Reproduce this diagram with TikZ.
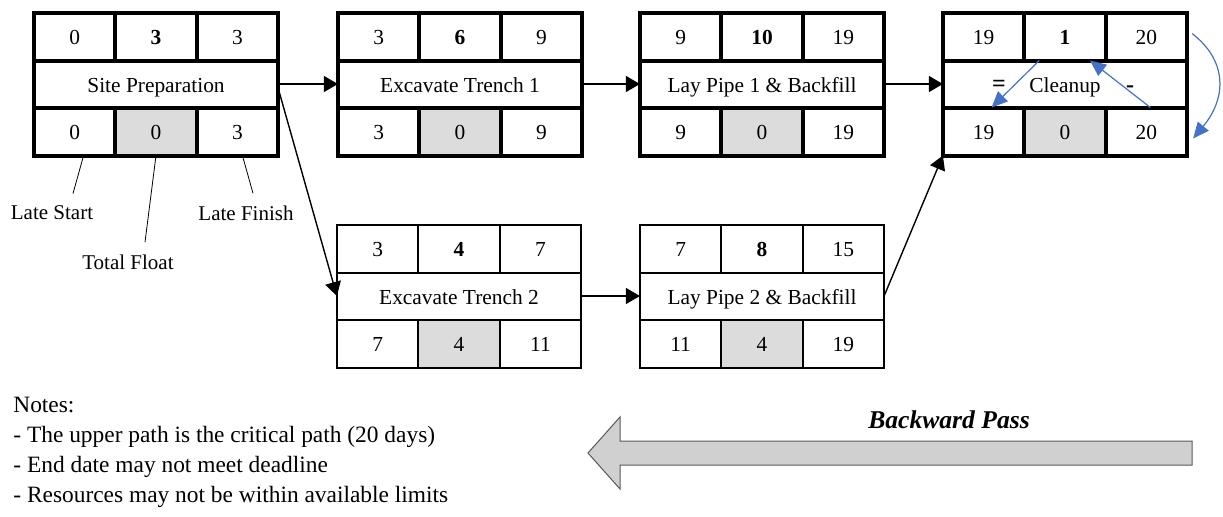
\documentclass[tikz,border=0pt]{standalone}
\usepackage{fontspec}
\setmainfont{Liberation Serif}
\usetikzlibrary{arrows.meta}
\definecolor{floatgrey}{HTML}{DCDCDC}
\definecolor{passblue}{HTML}{4472C4}
\definecolor{bigarrow}{HTML}{D0D0D0}

\begin{document}
\begin{tikzpicture}[x=0.5pt, y=-0.5pt, font=\fontsize{10.7}{12.8}\selectfont,
  cell/.style={draw, minimum width=40.7pt, minimum height=24pt, inner sep=0pt, outer sep=0pt,
    text height=9.5pt, text depth=1.5pt},
  title/.style={cell, minimum width=122.1pt, minimum height=23.5pt},
  tf/.style={cell, fill=floatgrey},
  crit/.style={line width=2pt},
  slack/.style={line width=1pt},
  link/.style={-{Triangle[length=7pt,width=8pt]}, line width=0.7pt},
  trace/.style={draw=passblue, line width=0.6pt, -{Triangle[length=8pt,width=7pt]}},
  lab/.style={font=\fontsize{10.5}{12}\selectfont, inner sep=1pt},
  pointer/.style={line width=0.4pt}]
  \useasboundingbox (0,0) rectangle (1223,516);
  % site preparation
  \node[title, crit] (sp) at (156,84) {Site Preparation};
  \node[cell, crit, anchor=south west] (sp-es) at (sp.north west) {0};
  \node[cell, crit, anchor=south] (sp-d) at (sp.north) {\textbf{3}};
  \node[cell, crit, anchor=south east] (sp-ef) at (sp.north east) {3};
  \node[cell, crit, anchor=north west] (sp-ls) at (sp.south west) {0};
  \node[tf, crit, anchor=north] (sp-tf) at (sp.south) {0};
  \node[cell, crit, anchor=north east] (sp-lf) at (sp.south east) {3};
  % excavate trench 1
  \node[title, crit] (et1) at (460,84) {Excavate Trench 1};
  \node[cell, crit, anchor=south west] (et1-es) at (et1.north west) {3};
  \node[cell, crit, anchor=south] (et1-d) at (et1.north) {\textbf{6}};
  \node[cell, crit, anchor=south east] (et1-ef) at (et1.north east) {9};
  \node[cell, crit, anchor=north west] (et1-ls) at (et1.south west) {3};
  \node[tf, crit, anchor=north] (et1-tf) at (et1.south) {0};
  \node[cell, crit, anchor=north east] (et1-lf) at (et1.south east) {9};
  % lay pipe 1
  \node[title, crit] (lp1) at (762,84) {Lay Pipe 1 \& Backfill};
  \node[cell, crit, anchor=south west] (lp1-es) at (lp1.north west) {9};
  \node[cell, crit, anchor=south] (lp1-d) at (lp1.north) {\textbf{10}};
  \node[cell, crit, anchor=south east] (lp1-ef) at (lp1.north east) {19};
  \node[cell, crit, anchor=north west] (lp1-ls) at (lp1.south west) {9};
  \node[tf, crit, anchor=north] (lp1-tf) at (lp1.south) {0};
  \node[cell, crit, anchor=north east] (lp1-lf) at (lp1.south east) {19};
  % cleanup
  \node[title, crit] (cu) at (1065,84) {Cleanup};
  \node[cell, crit, anchor=south west] (cu-es) at (cu.north west) {19};
  \node[cell, crit, anchor=south] (cu-d) at (cu.north) {\textbf{1}};
  \node[cell, crit, anchor=south east] (cu-ef) at (cu.north east) {20};
  \node[cell, crit, anchor=north west] (cu-ls) at (cu.south west) {19};
  \node[tf, crit, anchor=north] (cu-tf) at (cu.south) {0};
  \node[cell, crit, anchor=north east] (cu-lf) at (cu.south east) {20};
  \node[font=\fontsize{12}{14}\selectfont\bfseries, inner sep=0pt] (cu-eq) at ([xshift=-33pt,yshift=-1pt]cu.center) {=};
  \node[font=\fontsize{12}{14}\selectfont\bfseries, inner sep=0pt] (cu-mi) at ([xshift=32.5pt,yshift=-2.5pt]cu.center) {-};
  % excavate trench 2
  \node[title, slack] (et2) at (459,296) {Excavate Trench 2};
  \node[cell, slack, anchor=south west] (et2-es) at (et2.north west) {3};
  \node[cell, slack, anchor=south] (et2-d) at (et2.north) {\textbf{4}};
  \node[cell, slack, anchor=south east] (et2-ef) at (et2.north east) {7};
  \node[cell, slack, anchor=north west] (et2-ls) at (et2.south west) {7};
  \node[tf, slack, anchor=north] (et2-tf) at (et2.south) {4};
  \node[cell, slack, anchor=north east] (et2-lf) at (et2.south east) {11};
  % lay pipe 2
  \node[title, slack] (lp2) at (762,296) {Lay Pipe 2 \& Backfill};
  \node[cell, slack, anchor=south west] (lp2-es) at (lp2.north west) {7};
  \node[cell, slack, anchor=south] (lp2-d) at (lp2.north) {\textbf{8}};
  \node[cell, slack, anchor=south east] (lp2-ef) at (lp2.north east) {15};
  \node[cell, slack, anchor=north west] (lp2-ls) at (lp2.south west) {11};
  \node[tf, slack, anchor=north] (lp2-tf) at (lp2.south) {4};
  \node[cell, slack, anchor=north east] (lp2-lf) at (lp2.south east) {19};
  % dependencies
  \draw[link] (sp) -- (et1);
  \draw[link] (et1) -- (lp1);
  \draw[link] (lp1) -- (cu);
  \draw[link] ([yshift=-2pt]sp.east) -- (et2.west);
  \draw[link] (et2) -- (lp2);
  \draw[link] (lp2.east) -- (cu-ls.south west);
  % backward pass inside cleanup
  \draw[trace] ([xshift=7.5pt]cu-d.south west) -- ([xshift=4pt]cu-ls.north);
  \draw[trace] ([xshift=2pt]cu-lf.north) -- ([xshift=12.5pt]cu-d.south);
  \draw[trace] ([xshift=2.5pt,yshift=1.5pt]cu-ef.east) .. controls ([xshift=20pt,yshift=-12pt]cu-ef.east) and ([xshift=20pt,yshift=17pt]cu-lf.east) .. ([xshift=3pt,yshift=-3.5pt]cu-lf.east);
  % legend for the bottom row
  \node[lab] (ls-lab) at (52,213) {Late Start};
  \node[lab] (tf-lab) at (128,262) {Total Float};
  \node[lab] (lf-lab) at (246,213) {Late Finish};
  \draw[pointer] ([xshift=4.5pt]sp-ls.south) -- ([xshift=10.5pt,yshift=5pt]ls-lab.north);
  \draw[pointer] (sp-tf.south) -- ([xshift=8.5pt,yshift=5pt]tf-lab.north);
  \draw[pointer] ([xshift=2.5pt]sp-lf.south) -- ([xshift=3.5pt,yshift=5pt]lf-lab.north);
  % notes
  \node[font=\fontsize{11.7}{15}\selectfont, align=left, anchor=north west, inner sep=0pt] (notes) at (13,397)
    {Notes:\\- The upper path is the critical path (20 days)\\- End date may not meet deadline\\- Resources may not be within available limits};
  % backward pass arrow
  \draw[draw=black!65, fill=bigarrow, line width=0.5pt] (1192,441) -- (620,441) -- (620,417) -- (588,453)
    -- (620,489) -- (620,465) -- (1192,465) -- cycle;
  \node[font=\fontsize{12.8}{15}\selectfont\bfseries\itshape] (bp) at (949,420) {Backward Pass};
\end{tikzpicture}
\end{document}
